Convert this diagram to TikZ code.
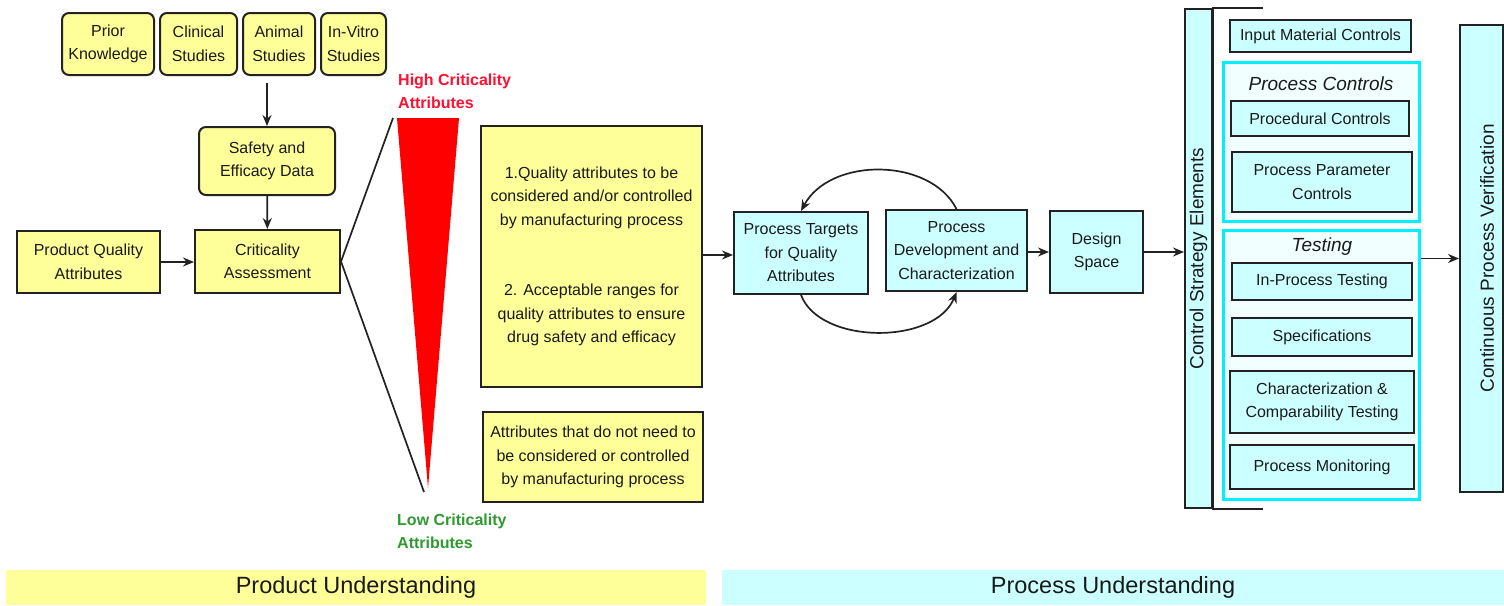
\documentclass[tikz,border=0pt]{standalone}
\usepackage{fontspec}
\setmainfont{Liberation Sans}
\usetikzlibrary{arrows.meta}
\definecolor{ylw}{HTML}{FFFF99}
\definecolor{cyn}{HTML}{CCFFFF}
\definecolor{frm}{HTML}{00F0FF}
\definecolor{frmfill}{HTML}{F2FFFF}
\definecolor{hired}{HTML}{FF1030}
\definecolor{logreen}{HTML}{2E9A2E}
\definecolor{edge}{HTML}{222222}
\definecolor{txt}{HTML}{1A1A1A}
\begin{document}
\begin{tikzpicture}[x=1pt,y=-1pt,
  base/.style={draw=edge, line width=2pt, align=center, inner sep=0pt,
    font=\fontsize{16}{23.5}\selectfont, text=txt},
  ybox/.style={base, fill=ylw},
  rybox/.style={ybox, rounded corners=7pt},
  cbox/.style={base, fill=cyn},
  frame/.style={draw=frm, line width=3pt, fill=frmfill, inner sep=0pt},
  arr/.style={-{Stealth[length=11pt,width=9pt]}, line width=1.7pt, draw=edge},
  sz/.style 2 args={minimum width=#1pt, minimum height=#2pt},
  head/.style={font=\fontsize{19}{22}\selectfont\itshape, text=txt},
  vtext/.style={rotate=90, font=\fontsize{19}{22}\selectfont, text=txt},
  band/.style={inner sep=0pt, font=\fontsize{23.5}{27}\selectfont, text=txt}
]
\useasboundingbox (0,0) rectangle (1504,605);

% ---------- product side ----------
\node[rybox, sz={92}{62}] (prior) at (108,44) {Prior\\Knowledge};
\node[rybox, sz={77}{62}] (clin) at (198.5,44) {Clinical\\Studies};
\node[rybox, sz={72}{62}] (anim) at (279,44) {Animal\\Studies};
\node[rybox, sz={65}{62}] (vitro) at (353.5,44) {In-Vitro\\Studies};
\node[rybox, sz={136}{68}] (safety) at (267,161) {Safety and\\Efficacy Data};
\node[ybox, sz={145}{63}] (crit) at (267.5,261.5) {Criticality\\Assessment};
\node[ybox, sz={143}{62}] (pqa) at (88.5,262) {Product Quality\\Attributes};

\coordinate (studies) at (267,83);
\draw[arr] (studies) -- (safety.north);
\draw[arr] (safety) -- (crit);
\draw[arr] (pqa.east) -- (pqa.east -| crit.west);

% criticality wedge
\fill[red] (397,118) -- (459,118) -- (428,488) -- cycle;
\coordinate (ttop) at (393,118);
\coordinate (tbot) at (424,492);
\draw[line width=1.7pt, edge] (ttop) -- (crit.east) -- (tbot);

\node[anchor=west, align=left, inner sep=0pt, text=hired,
  font=\fontsize{16}{23}\selectfont\bfseries] (hi) at (398,91) {High Criticality\\Attributes};
\node[anchor=west, align=left, inner sep=0pt, text=logreen,
  font=\fontsize{16}{23}\selectfont\bfseries] (lo) at (397,531.5) {Low Criticality\\Attributes};

\node[ybox, sz={221}{261}] (box1) at (591.5,256.5)
  {1.Quality attributes to be\\considered and/or controlled\\by manufacturing process\\[47pt]
   2. Acceptable ranges for\\quality attributes to ensure\\drug safety and efficacy};
\node[ybox, sz={220}{90}] (box2) at (593,457)
  {Attributes that do not need to\\be considered or controlled\\by manufacturing process};

% ---------- process side ----------
\node[cbox, sz={134}{82}] (targets) at (801,253) {Process Targets\\for Quality\\Attributes};
\node[cbox, sz={141}{81}] (dev) at (956.5,250.5) {Process\\Development and\\Characterization};
\node[cbox, sz={93}{82}] (design) at (1096.5,252) {Design\\Space};

\draw[arr] (box1.east |- 0,255) -- (targets.west |- 0,255);
\draw[arr] (dev.east |- design) -- (design.west);
\draw[arr] (dev.north) .. controls (930,157) and (830,157) .. (targets.north);
\draw[arr] (targets.south) .. controls (820,345) and (935,345) .. (dev.south);

% control strategy
\node[cbox, sz={27}{499}] (cse) at (1198.5,258.5) {};
\node[vtext] (csetxt) at (cse) {Control Strategy Elements};
\draw[line width=2.6pt, edge] ([xshift=50pt]cse.north east) -- (cse.north east)
  -- (cse.south east) -- ([xshift=50pt]cse.south east);
\draw[arr] (design.east) -- (design.east -| cse.west);

\node[cbox, sz={181}{32}] (imc) at (1320.5,36) {Input Material Controls};

\node[frame, sz={196}{159}] (pcf) at (1321,141.5) {};
\node[head] (pch) at (1321,84) {Process Controls};
\node[cbox, sz={178}{35}] (proc) at (1320,118.5) {Procedural Controls};
\node[cbox, sz={180}{60}] (ppc) at (1322,182) {Process Parameter\\Controls};

\node[frame, sz={196}{269}] (tf) at (1321,364.5) {};
\node[head] (tfh) at (1322,247) {Testing};
\node[cbox, sz={180}{37}] (ipt) at (1322,281.5) {In-Process Testing};
\node[cbox, sz={180}{38}] (spec) at (1322,337) {Specifications};
\node[cbox, sz={184}{62}] (chr) at (1322,402) {Characterization \&\\Comparability Testing};
\node[cbox, sz={184}{44}] (pm) at (1322,467) {Process Monitoring};

\node[cbox, sz={43}{467}] (cpv) at (1481.5,258.5) {};
\node[vtext] (cpvtxt) at (1487,258.5) {Continuous Process Verification};
\draw[arr] (tf.east |- cpv) -- (cpv.west);

% ---------- bands ----------
\node[band, fill=ylw, sz={700}{35}] (pu) at (356,587.5) {Product Understanding};
\node[band, fill=cyn, sz={782}{35}] (pru) at (1113,587.5) {Process Understanding};
\end{tikzpicture}
\end{document}
